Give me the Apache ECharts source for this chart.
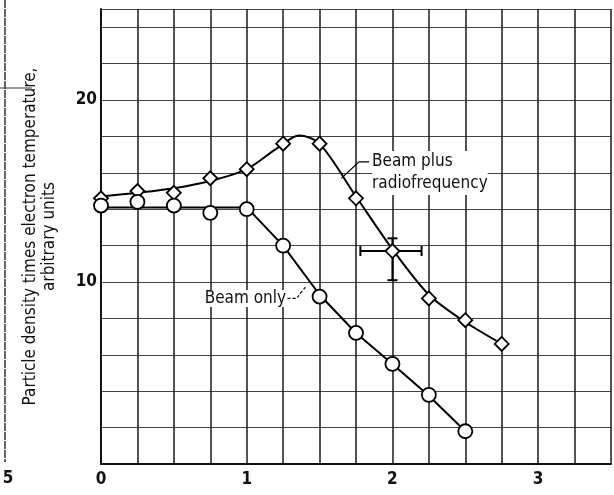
<!DOCTYPE html>
<html>
<head>
<meta charset="utf-8">
<title>Beam plus radiofrequency</title>
<script src="https://cdn.jsdelivr.net/npm/echarts@6/dist/echarts.min.js"></script>
<style>
  html, body { margin: 0; height: 100%; background: #fff; }
  #main { width: 614px; height: 495px; }
</style>
</head>
<body>
<div id="main"></div>
<script>
// x values of the measured points
var xPts = [0, 0.25, 0.5, 0.75, 1, 1.25, 1.5, 1.75, 2, 2.25, 2.5, 2.75];
// beam plus radiofrequency (diamonds)
var rfVals = [14.6, 15.0, 14.9, 15.7, 16.2, 17.6, 17.6, 14.6, 11.7, 9.1, 7.9, 6.6];
// beam only (circles)
var beamVals = [14.2, 14.4, 14.2, 13.8, 14.0, 12.0, 9.2, 7.2, 5.5, 3.8, 1.8];
// hand-drawn fit curve through the diamonds
var rfCurve = [[0, 14.7], [0.25, 14.9], [0.5, 15.15], [0.75, 15.55], [1, 16.2], [1.2, 17.3], [1.36, 18.05], [1.5, 17.6], [1.75, 14.7], [2, 11.8], [2.25, 9.3], [2.5, 7.8], [2.75, 6.6]];
// line through the circles
var beamCurve = [[0, 14.1], [1, 14.1], [1.25, 12.0], [1.5, 9.3], [1.75, 7.2], [2, 5.5], [2.25, 3.75], [2.5, 1.8]];
// error bar at x = 2 : [x, y, yLow, yHigh, xLow, xHigh]
var errBar = [[2, 11.7, 10.1, 12.4, 1.78, 2.2]];
// label leaders
var rfLeader = [[1.65, 15.7], [1.77, 16.6], [1.84, 16.6]];
var beamLeader = [[1.28, 9.1], [1.33, 9.1], [1.37, 9.4], [1.41, 9.8]];
var xTickLabels = ['0', '1', '2', '3'];
var yTickLabels = ['10', '20'];

var font = "'DejaVu Sans Condensed', 'Liberation Sans Narrow', sans-serif";

function pairs(xs, ys) {
  var out = [];
  for (var i = 0; i < ys.length; i++) out.push([xs[i], ys[i]]);
  return out;
}

var dom = document.getElementById('main');
var myChart = echarts.init(dom);
var option = {
  animation: false,
  grid: { left: 101, right: 1, top: 9, bottom: 31 },
  xAxis: {
    type: 'value', min: 0, max: 3.5, interval: 0.25,
    axisLine: { show: true, lineStyle: { color: '#111', width: 2 } },
    axisTick: { show: false },
    axisLabel: {
      color: '#111', fontSize: 17, fontFamily: font, fontWeight: 'bold', margin: 7,
      formatter: function (v) {
        return xTickLabels.indexOf(String(v)) >= 0 ? String(v) : '';
      }
    },
    splitLine: { show: true, lineStyle: { color: '#1a1a1a', width: 1.5 } }
  },
  yAxis: {
    type: 'value', min: 0, max: 25, interval: 2,
    name: 'Particle density times electron temperature,\narbitrary units',
    nameLocation: 'middle', nameRotate: 90, nameGap: 42,
    nameTextStyle: { color: '#111', fontSize: 17, fontFamily: font, lineHeight: 19 },
    axisLine: { show: true, lineStyle: { color: '#111', width: 2 } },
    axisTick: { show: false },
    axisLabel: {
      color: '#111', fontSize: 17, fontFamily: font, fontWeight: 'bold', margin: 4,
      formatter: function (v) {
        return yTickLabels.indexOf(String(v)) >= 0 ? String(v) : '';
      }
    },
    splitLine: { show: true, lineStyle: { color: '#444', width: 1 } }
  },
  series: [
    {
      type: 'line', data: rfCurve, smooth: 0.3, symbol: 'none', z: 3,
      lineStyle: { color: '#000', width: 2 }
    },
    {
      type: 'line', data: beamCurve, symbol: 'none', z: 3,
      lineStyle: { color: '#000', width: 2 }
    },
    {
      type: 'line', data: rfLeader, symbol: 'none', z: 3,
      lineStyle: { color: '#000', width: 1.2 }
    },
    {
      type: 'line', data: beamLeader, symbol: 'none', smooth: true, z: 3,
      lineStyle: { color: '#000', width: 1.2, type: [3, 2] }
    },
    {
      type: 'custom', data: errBar, z: 4,
      renderItem: function (params, api) {
        var c = api.coord([api.value(0), api.value(1)]);
        var lo = api.coord([api.value(0), api.value(2)]);
        var hi = api.coord([api.value(0), api.value(3)]);
        var l = api.coord([api.value(4), api.value(1)]);
        var r = api.coord([api.value(5), api.value(1)]);
        var st = { stroke: '#000', lineWidth: 2 };
        var cap = 5;
        return {
          type: 'group',
          children: [
            { type: 'line', shape: { x1: lo[0], y1: lo[1], x2: hi[0], y2: hi[1] }, style: st },
            { type: 'line', shape: { x1: lo[0] - cap, y1: lo[1], x2: lo[0] + cap, y2: lo[1] }, style: st },
            { type: 'line', shape: { x1: hi[0] - cap, y1: hi[1], x2: hi[0] + cap, y2: hi[1] }, style: st },
            { type: 'line', shape: { x1: l[0], y1: c[1], x2: r[0], y2: c[1] }, style: st },
            { type: 'line', shape: { x1: l[0], y1: c[1] - cap, x2: l[0], y2: c[1] + cap }, style: st },
            { type: 'line', shape: { x1: r[0], y1: c[1] - cap, x2: r[0], y2: c[1] + cap }, style: st }
          ]
        };
      }
    },
    {
      type: 'scatter', data: pairs(xPts, rfVals), symbol: 'diamond', symbolSize: 14, z: 5,
      itemStyle: { color: '#fff', borderColor: '#000', borderWidth: 1.8, opacity: 1 }
    },
    {
      type: 'scatter', data: pairs(xPts, beamVals), symbol: 'circle', symbolSize: 14, z: 5,
      itemStyle: { color: '#fff', borderColor: '#000', borderWidth: 1.8, opacity: 1 }
    }
  ]
};
myChart.setOption(option);

// annotation text placed at data positions
var rfLabel = myChart.convertToPixel({ gridIndex: 0 }, [1.86, 16.05]);
var beamLabel = myChart.convertToPixel({ gridIndex: 0 }, [1.27, 9.1]);
myChart.setOption({
  graphic: [
    {
      type: 'text', left: rfLabel[0], top: rfLabel[1] - 21, z: 10,
      style: { text: 'Beam plus\nradiofrequency', fill: '#111', font: '17px ' + font, lineHeight: 22, backgroundColor: '#fff' }
    },
    {
      type: 'text', x: beamLabel[0], y: beamLabel[1], z: 10,
      style: { text: 'Beam only', fill: '#111', font: '17px ' + font, align: 'right', verticalAlign: 'middle', backgroundColor: '#fff' }
    },
    // edge of the neighbouring figure on the scanned page
    { type: 'line', shape: { x1: 5, y1: 0, x2: 5, y2: 462 }, style: { stroke: '#333', lineWidth: 1.5, lineDash: [8, 1] } },
    { type: 'line', shape: { x1: 0, y1: 88, x2: 32, y2: 88 }, style: { stroke: '#333', lineWidth: 1 } },
    {
      type: 'text', x: 8, y: 479,
      style: { text: '5', fill: '#111', font: 'bold 17px ' + font, align: 'center', verticalAlign: 'middle' }
    }
  ]
});
</script>
</body>
</html>
